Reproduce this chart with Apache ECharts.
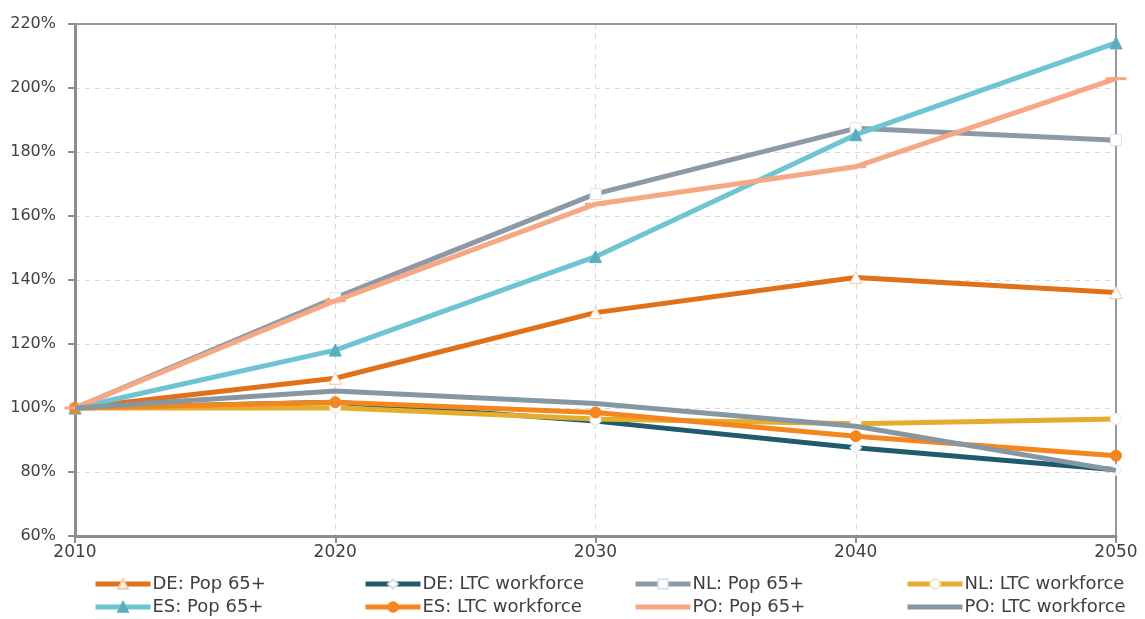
<!DOCTYPE html>
<html>
<head>
<meta charset="utf-8">
<script src="https://cdn.jsdelivr.net/npm/echarts@6/dist/echarts.min.js"></script>
<style>
html,body{margin:0;padding:0;background:#fff;}
#c{width:1145px;height:619px;}
</style>
</head>
<body>
<div id="c"></div>
<script>
const years = [2010, 2020, 2030, 2040, 2050];
const yTicks = [60, 80, 100, 120, 140, 160, 180, 200, 220];

const dePop = [100, 109.3, 129.8, 140.8, 136.1];
const deLtc = [100, 101.8, 95.9, 87.6, 80.7];
const nlPop = [100, 134.4, 166.9, 187.4, 183.7];
const nlLtc = [100, 100.1, 96.6, 95.1, 96.6];
const esPop = [100, 118.1, 147.3, 185.4, 214.1];
const esLtc = [100, 101.8, 98.6, 91.2, 85.1];
const poPop = [100, 133.5, 163.7, 175.4, 202.9];
const poLtc = [100, 105.3, 101.4, 94.3, 80.5];

const seriesNames = ['DE: Pop 65+', 'DE: LTC workforce', 'NL: Pop 65+', 'NL: LTC workforce',
                     'ES: Pop 65+', 'ES: LTC workforce', 'PO: Pop 65+', 'PO: LTC workforce'];
const seriesData = [dePop, deLtc, nlPop, nlLtc, esPop, esLtc, poPop, poLtc];

const styles = [
  {color:'#E07119', symbol:'triangle', size:12, fill:'#ffffff', border:'#F7C9A6', legendMark:true},
  {color:'#1F5A6D', symbol:'diamond', size:12, fill:'#ffffff', border:'#d8e3e8', legendMark:true},
  {color:'#8E99A7', symbol:'rect', size:11, fill:'#ffffff', border:'#dfe3e7', legendMark:true},
  {color:'#E3AE2E', symbol:'circle', size:11, fill:'#ffffff', border:'#f6e6bf', legendMark:true},
  {color:'#6EC4D3', symbol:'triangle', size:12, fill:'#58AEBF', border:'#58AEBF', legendMark:true},
  {color:'#F4861F', symbol:'circle', size:11, fill:'#F4861F', border:'#F4861F', legendMark:true},
  {color:'#F6A885', symbol:'rect', size:[14,2], fill:'#F6A885', border:'#F6A885', legendMark:false},
  {color:'#8597A3', symbol:'none', size:0, fill:'#8597A3', border:'#8597A3', legendMark:false}
];

const series = seriesNames.map((n, i) => ({
  name: n,
  type: 'line',
  data: years.map((y, j) => [y, seriesData[i][j]]),
  symbol: styles[i].symbol,
  symbolSize: styles[i].size,
  showSymbol: styles[i].symbol !== 'none',
  lineStyle: {color: styles[i].color, width: 5},
  itemStyle: {color: styles[i].fill, borderColor: styles[i].border, borderWidth: 1},
  color: styles[i].color,
  z: 2 + i,
  animation: false
}));

const fontFam = 'DejaVu Sans';
const legendCols = [93, 363, 633, 905];
function legendItem(idx) {
  const it = {name: seriesNames[idx], lineStyle: {width: 5, color: styles[idx].color}};
  if (!styles[idx].legendMark) it.itemStyle = {opacity: 0};
  return it;
}
const legends = legendCols.map((x, k) => ({
  orient: 'vertical',
  left: x,
  top: 575,
  height: 46,
  padding: 0,
  itemWidth: 55,
  itemHeight: 12,
  itemGap: 5,
  selectedMode: false,
  lineStyle: {width: 5},
  textStyle: {fontFamily: fontFam, fontSize: 18, color: '#404040', padding: [0,0,0,-3]},
  data: [legendItem(k), legendItem(k + 4)]
}));

const axisGray = '#8c8c8c';
const chart = echarts.init(document.getElementById('c'), null, {renderer: 'canvas'});
chart.setOption({
  animation: false,
  backgroundColor: '#ffffff',
  grid: {left: 75, right: 29, top: 24, bottom: 83},
  legend: legends,
  xAxis: [{
    type: 'value',
    min: years[0],
    max: years[years.length - 1],
    interval: 10,
    axisLine: {show: true, lineStyle: {color: axisGray, width: 3}},
    axisTick: {show: true, length: 7, lineStyle: {color: axisGray, width: 2}},
    axisLabel: {fontFamily: fontFam, fontSize: 17, color: '#404040', margin: 8, formatter: v => String(v)},
    splitLine: {show: true, lineStyle: {color: '#d9d9d9', type: [5, 5], width: 1}}
  }, {
    type: 'value',
    position: 'top',
    min: years[0],
    max: years[years.length - 1],
    interval: 10,
    axisLine: {show: true, onZero: false, lineStyle: {color: '#999999', width: 2}},
    axisTick: {show: false},
    axisLabel: {show: false},
    splitLine: {show: false}
  }],
  yAxis: [{
    type: 'value',
    min: yTicks[0],
    max: yTicks[yTicks.length - 1],
    interval: 20,
    axisLine: {show: true, lineStyle: {color: axisGray, width: 3}},
    axisTick: {show: true, length: 7, lineStyle: {color: axisGray, width: 2}},
    axisLabel: {fontFamily: fontFam, fontSize: 16, color: '#404040', margin: 19, formatter: '{value}%'},
    splitLine: {show: true, lineStyle: {color: '#d9d9d9', type: [5, 5], width: 1}}
  }, {
    type: 'value',
    position: 'right',
    min: yTicks[0],
    max: yTicks[yTicks.length - 1],
    interval: 20,
    axisLine: {show: true, onZero: false, lineStyle: {color: '#999999', width: 2}},
    axisTick: {show: false},
    axisLabel: {show: false},
    splitLine: {show: false}
  }],
  series: series
});
</script>
</body>
</html>
